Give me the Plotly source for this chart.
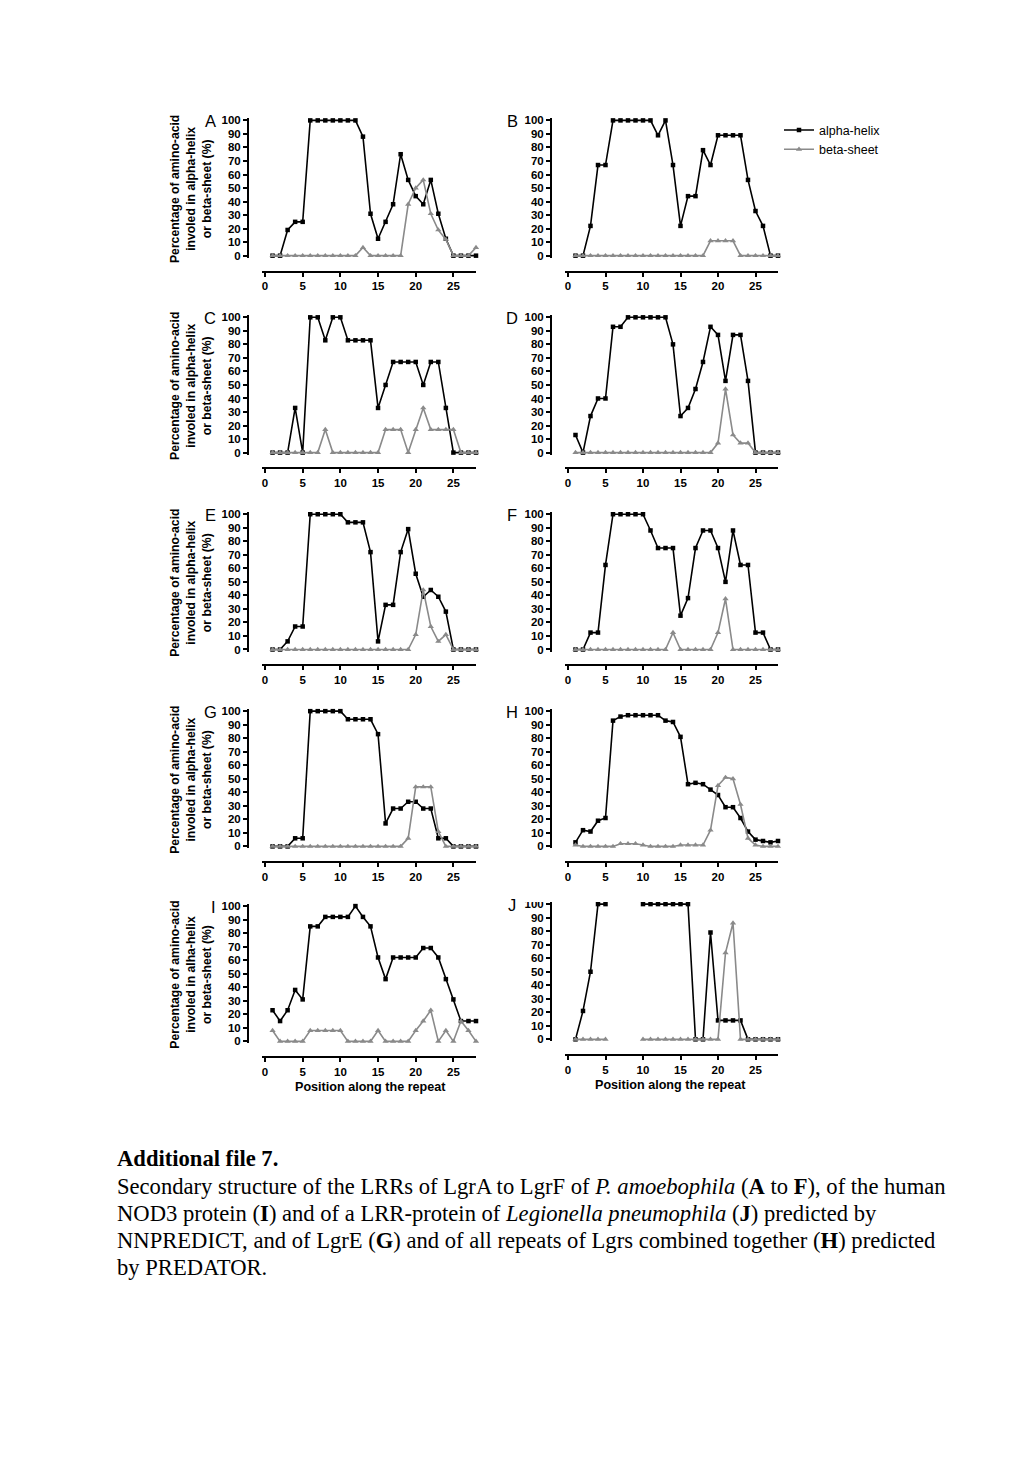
import plotly.graph_objects as go

# ---------------- data ----------------
positions = list(range(1, 29))
panel_labels = ["A", "B", "C", "D", "E", "F", "G", "H", "I", "J"]

alpha_A = [0, 0, 19, 25, 25, 100, 100, 100, 100, 100, 100, 100, 88, 31, 12.5, 25, 38, 75, 56, 44, 38, 56, 31, 12.5, 0, 0, 0, 0]
beta_A = [0, 0, 0, 0, 0, 0, 0, 0, 0, 0, 0, 0, 6, 0, 0, 0, 0, 0, 38, 50, 56, 31, 19, 12, 0, 0, 0, 6]

alpha_B = [0, 0, 22, 67, 67, 100, 100, 100, 100, 100, 100, 89, 100, 67, 22, 44, 44, 78, 67, 89, 89, 89, 89, 56, 33, 22, 0, 0]
beta_B = [0, 0, 0, 0, 0, 0, 0, 0, 0, 0, 0, 0, 0, 0, 0, 0, 0, 0, 11, 11, 11, 11, 0, 0, 0, 0, 0, 0]

alpha_C = [0, 0, 0, 33, 0, 100, 100, 83, 100, 100, 83, 83, 83, 83, 33, 50, 67, 67, 67, 67, 50, 67, 67, 33, 0, 0, 0, 0]
beta_C = [0, 0, 0, 0, 0, 0, 0, 17, 0, 0, 0, 0, 0, 0, 0, 17, 17, 17, 0, 17, 33, 17, 17, 17, 17, 0, 0, 0]

alpha_D = [13, 0, 27, 40, 40, 93, 93, 100, 100, 100, 100, 100, 100, 80, 27, 33, 47, 67, 93, 87, 53, 87, 87, 53, 0, 0, 0, 0]
beta_D = [0, 0, 0, 0, 0, 0, 0, 0, 0, 0, 0, 0, 0, 0, 0, 0, 0, 0, 0, 7, 47, 13, 7, 7, 0, 0, 0, 0]

alpha_E = [0, 0, 6, 17, 17, 100, 100, 100, 100, 100, 94, 94, 94, 72, 6, 33, 33, 72, 89, 56, 39, 44, 39, 28, 0, 0, 0, 0]
beta_E = [0, 0, 0, 0, 0, 0, 0, 0, 0, 0, 0, 0, 0, 0, 0, 0, 0, 0, 0, 11, 44, 17, 6, 11, 0, 0, 0, 0]

alpha_F = [0, 0, 12.5, 12.5, 62.5, 100, 100, 100, 100, 100, 88, 75, 75, 75, 25, 38, 75, 88, 88, 75, 50, 88, 62.5, 62.5, 12.5, 12.5, 0, 0]
beta_F = [0, 0, 0, 0, 0, 0, 0, 0, 0, 0, 0, 0, 0, 12.5, 0, 0, 0, 0, 0, 12.5, 37.5, 0, 0, 0, 0, 0, 0, 0]

alpha_G = [0, 0, 0, 6, 6, 100, 100, 100, 100, 100, 94, 94, 94, 94, 83, 17, 28, 28, 33, 33, 28, 28, 6, 6, 0, 0, 0, 0]
beta_G = [0, 0, 0, 0, 0, 0, 0, 0, 0, 0, 0, 0, 0, 0, 0, 0, 0, 0, 6, 44, 44, 44, 11, 0, 0, 0, 0, 0]

alpha_H = [3, 12, 11, 19, 21, 93, 96, 97, 97, 97, 97, 97, 93, 92, 81, 46, 47, 46, 42, 38, 29, 29, 21, 11, 5, 4, 3, 4]
beta_H = [1, 0, 0, 0, 0, 0, 2, 2, 2, 1, 0, 0, 0, 0, 1, 1, 1, 1, 12, 45, 51, 50, 31, 6, 1, 0, 0, 0]

alpha_I = [23, 15, 23, 38, 31, 85, 85, 92, 92, 92, 92, 100, 92, 85, 62, 46, 62, 62, 62, 62, 69, 69, 62, 46, 31, 15, 15, 15]
beta_I = [8, 0, 0, 0, 0, 8, 8, 8, 8, 8, 0, 0, 0, 0, 8, 0, 0, 0, 0, 8, 15, 23, 0, 8, 0, 15, 8, 0]

alpha_J = [0, 21, 50, 100, 100, None, None, None, None, 100, 100, 100, 100, 100, 100, 100, 0, 0, 79, 14, 14, 14, 14, 0, 0, 0, 0, 0]
beta_J = [0, 0, 0, 0, 0, None, None, None, None, 0, 0, 0, 0, 0, 0, 0, 0, 0, 0, 0, 64, 86, 0, 0, 0, 0, 0, 0]

alpha_series = [alpha_A, alpha_B, alpha_C, alpha_D, alpha_E, alpha_F, alpha_G, alpha_H, alpha_I, alpha_J]
beta_series = [beta_A, beta_B, beta_C, beta_D, beta_E, beta_F, beta_G, beta_H, beta_I, beta_J]

y_ticks = list(range(0, 101, 10))
x_ticks = [0, 5, 10, 15, 20, 25]

y_title_std = "Percentage of amino-acid<br>involed in alpha-helix<br>or beta-sheet (%)"
y_title_I = "Percentage of amino-acid<br>involed in alha-helix<br>or beta-sheet (%)"
x_title = "Position along the repeat"

caption_lines = [
    "<b>Additional file 7.</b>",
    "Secondary structure of the LRRs of LgrA to LgrF of <i>P. amoebophila</i> (<b>A</b> to <b>F</b>), of the human",
    "NOD3 protein (<b>I</b>) and of a LRR-protein of <i>Legionella pneumophila</i> (<b>J</b>) predicted by",
    "NNPREDICT, and of LgrE (<b>G</b>) and of all repeats of Lgrs combined together (<b>H</b>) predicted",
    "by PREDATOR.",
]

# ---------------- geometry helpers ----------------
W, H, OFF = 1008, 1463, 8


def px(x):
    return (x - OFF) / W


def py(y):
    return 1 - (y - OFF) / H


SANS = "Liberation Sans, Arial, Helvetica, sans-serif"
SERIF = "Liberation Serif, Times New Roman, serif"
BLACK = "#000000"
GRAY = "#8a8a8a"

# column geometry: y-axis x pixel, x-domain pixels (range -0.4..28)
cols = [dict(yx=248, x0=262, x1=476), dict(yx=551, x0=565, x1=778)]
row_top = [117, 315, 513, 711, 907]
YR = [-1.5, 101.5]
YSCALE = 1.36  # px per unit

fig = go.Figure()
shapes = []
annotations = []

for i in range(10):
    r, c = divmod(i, 2)
    top = row_top[r] - (2 if i == 9 else 0)
    zero = top + 136
    g = cols[c]
    ax = "" if i == 0 else str(i + 1)
    xa = "x" + ax
    ya = "y" + ax

    fig.add_trace(go.Scatter(
        x=positions, y=alpha_series[i], xaxis=xa, yaxis=ya,
        mode="lines+markers", name="alpha-helix", legendgroup="a",
        showlegend=(i == 0), cliponaxis=False,
        line=dict(color=BLACK, width=1.6),
        marker=dict(symbol="square", size=4.5, color=BLACK),
    ))
    fig.add_trace(go.Scatter(
        x=positions, y=beta_series[i], xaxis=xa, yaxis=ya,
        mode="lines+markers", name="beta-sheet", legendgroup="b",
        showlegend=(i == 0), cliponaxis=False,
        line=dict(color=GRAY, width=1.6),
        marker=dict(symbol="triangle-up", size=5.5, color=GRAY),
    ))

    y_dom = [py(zero + 1.5 * YSCALE), py(top - 1.5 * YSCALE)]
    x_dom = [px(g["x0"]), px(g["x1"])]
    tickfont = dict(family=SANS, size=11.5, color=BLACK, weight="bold")
    fig.update_layout(**{
        ("xaxis" + ax): dict(
            domain=x_dom, range=[-0.4, 28], anchor="free", position=py(top + 152),
            showline=True, linecolor=BLACK, linewidth=2, showgrid=False, zeroline=False,
            ticks="outside", ticklen=4, tickwidth=1.6, tickcolor=BLACK,
            tickvals=x_ticks, tickfont=tickfont,
        ),
        ("yaxis" + ax): dict(
            domain=y_dom, range=YR, anchor="free", position=px(g["yx"]),
            showline=True, linecolor=BLACK, linewidth=2, showgrid=False, zeroline=False,
            ticks="outside", ticklen=4, tickwidth=1.6, tickcolor=BLACK,
            tickvals=y_ticks, tickfont=tickfont,
        ),
    })

    # panel letter
    lx = 210 if c == 0 else 512
    if i == 8:
        lx = 213
    annotations.append(dict(
        text=panel_labels[i], x=px(lx), y=py(top + 1), xref="paper", yref="paper",
        xanchor="center", yanchor="middle", showarrow=False,
        font=dict(family=SANS, size=16.5, color=BLACK),
    ))

    # y-axis title for left column
    if c == 0:
        annotations.append(dict(
            text=(y_title_I if i == 8 else y_title_std),
            x=px(191), y=py(top + 69), xref="paper", yref="paper",
            xanchor="center", yanchor="middle", textangle=-90, showarrow=False,
            font=dict(family=SANS, size=12.2, color=BLACK, weight="bold"),
        ))

    # x-axis titles for the bottom row
    if r == 4:
        annotations.append(dict(
            text=x_title, x=px(370 if c == 0 else 670), y=py(top + 182),
            xref="paper", yref="paper", xanchor="center", yanchor="middle",
            showarrow=False, font=dict(family=SANS, size=12.6, color=BLACK, weight="bold"),
        ))

# top of panel J is cut off in the source
shapes.append(dict(type="rect", xref="paper", yref="paper", layer="above",
                   x0=px(520), x1=px(790), y0=py(903), y1=py(893),
                   fillcolor="white", line=dict(width=0)))

# caption
cap_y = [1161, 1189, 1216, 1243, 1270]
for k, line in enumerate(caption_lines):
    annotations.append(dict(
        text=line, x=px(115), y=py(cap_y[k]), xref="paper", yref="paper",
        xanchor="left", yanchor="middle", showarrow=False,
        font=dict(family=SERIF, size=22.6, color=BLACK),
    ))

fig.update_layout(
    width=W, height=H, margin=dict(l=0, r=0, t=0, b=0),
    paper_bgcolor="white", plot_bgcolor="white",
    showlegend=True,
    legend=dict(x=px(779), y=py(112), xanchor="left", yanchor="top",
                bgcolor="rgba(0,0,0,0)", itemwidth=30, tracegroupgap=0,
                font=dict(family=SANS, size=12.5, color=BLACK)),
    annotations=annotations, shapes=shapes,
)

fig.write_html("out.html")
